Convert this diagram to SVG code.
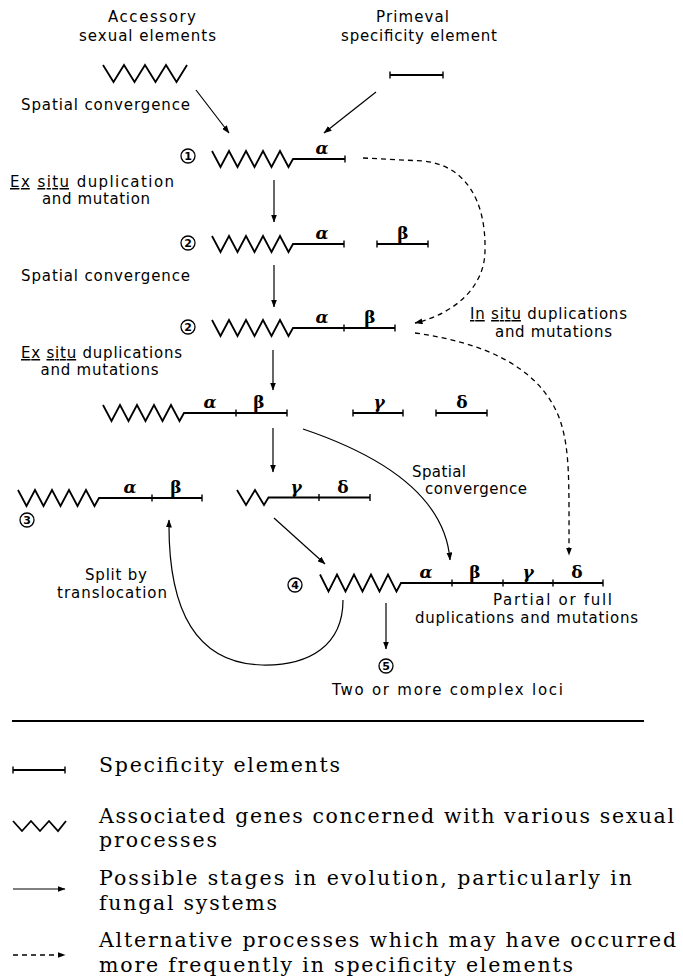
<svg xmlns="http://www.w3.org/2000/svg" width="683" height="978" viewBox="0 0 683 978">
<defs>
<marker id="ah" viewBox="0 0 8 6" refX="7.5" refY="3" markerWidth="8" markerHeight="6" markerUnits="userSpaceOnUse" orient="auto">
<path d="M0,0 L8,3 L0,6 z" fill="#000"/>
</marker>
<style>
.g{fill:none;stroke:#000;stroke-width:1.8;stroke-linejoin:miter}
.t{fill:none;stroke:#000;stroke-width:1.4}
.a{fill:none;stroke:#000;stroke-width:1.2;marker-end:url(#ah)}
.d{fill:none;stroke:#000;stroke-width:1.3;stroke-dasharray:5 4;marker-end:url(#ah)}
.c{fill:none;stroke:#000;stroke-width:1.3}
.lb{font-family:"DejaVu Sans","Liberation Sans",sans-serif;font-size:15px;fill:#000}
.n{font-family:"DejaVu Sans","Liberation Sans",sans-serif;font-size:11px;font-weight:bold;fill:#000;text-anchor:middle}
.gk{font-family:"DejaVu Serif","Liberation Serif",serif;font-size:17px;font-weight:bold;fill:#000;text-anchor:middle}
.it{font-style:italic}
.lg{font-family:"DejaVu Serif","Liberation Serif",serif;font-size:20.5px;fill:#000}
.u{text-decoration:underline}
</style>
</defs>

<g id="labels">
<text class="lb" x="108" y="22" textLength="88">Accessory</text>
<text class="lb" x="79" y="40.5" textLength="137">sexual elements</text>
<text class="lb" x="376" y="22" textLength="73">Primeval</text>
<text class="lb" x="341" y="40.5" textLength="156">specificity element</text>
<text class="lb" x="21" y="110" textLength="169">Spatial convergence</text>
<text class="lb" x="10" y="187" textLength="164"><tspan class="u">Ex</tspan> <tspan class="u">situ</tspan> duplication</text>
<text class="lb" x="42" y="204" textLength="108">and mutation</text>
<text class="lb" x="21" y="281" textLength="169">Spatial convergence</text>
<text class="lb" x="21" y="358" textLength="161"><tspan class="u">Ex</tspan> <tspan class="u">situ</tspan> duplications</text>
<text class="lb" x="40.5" y="375" textLength="118">and mutations</text>
<text class="lb" x="470" y="319" textLength="157"><tspan class="u">In</tspan> <tspan class="u">situ</tspan> duplications</text>
<text class="lb" x="495" y="337" textLength="117">and mutations</text>
<text class="lb" x="412" y="477" textLength="54">Spatial</text>
<text class="lb" x="425" y="494" textLength="102">convergence</text>
<text class="lb" x="85" y="580" textLength="62">Split by</text>
<text class="lb" x="57" y="598" textLength="110">translocation</text>
<text class="lb" x="493" y="605" textLength="119">Partial or full</text>
<text class="lb" x="415" y="623" textLength="223">duplications and mutations</text>
<text class="lb" x="332" y="695" textLength="231">Two or more complex loci</text>
</g>

<g id="node-accessory">
<path class="g" d="M103,65 l10.5,17 l10.5,-17 l10.5,17 l10.5,-17 l10.5,17 l10.5,-17 l10.5,17 l10.5,-17"/>
</g>
<g id="node-primeval">
<path class="g" d="M390,75 H443"/>
<path class="t" d="M390,71.5 v7 M443,71.5 v7"/>
</g>

<g id="node-1">
<circle class="c" cx="188" cy="156" r="7"/><text class="n" x="188" y="160">1</text>
<path class="g" d="M212,151 l8.5,16 l8.5,-16 l8.5,16 l8.5,-16 l8.5,16 l8.5,-16 l8.5,16 l8.5,-16 l8.5,16 l4.5,-8 H345"/>
<path class="t" d="M345,155.5 v7"/>
<text class="gk it" x="322" y="153.5">α</text>
</g>

<g id="node-2a">
<circle class="c" cx="188" cy="243" r="7"/><text class="n" x="188" y="247">2</text>
<path class="g" d="M212,236 l8.5,16 l8.5,-16 l8.5,16 l8.5,-16 l8.5,16 l8.5,-16 l8.5,16 l8.5,-16 l8.5,16 l4.5,-8 H344"/>
<path class="g" d="M377,244 H428"/>
<path class="t" d="M344,240.5 v7 M377,240.5 v7 M428,240.5 v7"/>
<text class="gk it" x="322" y="238.5">α</text>
<text class="gk" x="403" y="238.5">β</text>
</g>

<g id="node-2b">
<circle class="c" cx="188" cy="327" r="7"/><text class="n" x="188" y="331">2</text>
<path class="g" d="M212,320 l8.5,16 l8.5,-16 l8.5,16 l8.5,-16 l8.5,16 l8.5,-16 l8.5,16 l8.5,-16 l8.5,16 l4.5,-8 H395"/>
<path class="t" d="M344,324.5 v7 M395,324.5 v7"/>
<text class="gk it" x="322" y="322.5">α</text>
<text class="gk" x="370" y="322.5">β</text>
</g>

<g id="node-abgd">
<path class="g" d="M103,405 l8.5,16 l8.5,-16 l8.5,16 l8.5,-16 l8.5,16 l8.5,-16 l8.5,16 l8.5,-16 l8.5,16 l4.5,-8 H287"/>
<path class="g" d="M353,413 H403 M436,413 H487"/>
<path class="t" d="M236,409.5 v7 M287,409.5 v7 M353,409.5 v7 M403,409.5 v7 M436,409.5 v7 M487,409.5 v7"/>
<text class="gk it" x="210" y="407.5">α</text>
<text class="gk" x="259" y="407.5">β</text>
<text class="gk it" x="379" y="407.5">γ</text>
<text class="gk" x="462" y="407.5">δ</text>
</g>

<g id="node-3">
<circle class="c" cx="27" cy="520" r="7"/><text class="n" x="27" y="524">3</text>
<path class="g" d="M18,490 l8.5,16 l8.5,-16 l8.5,16 l8.5,-16 l8.5,16 l8.5,-16 l8.5,16 l8.5,-16 l8.5,16 l4.5,-8 H202"/>
<path class="t" d="M152,494.5 v7 M202,494.5 v7"/>
<text class="gk it" x="130" y="492.5">α</text>
<text class="gk" x="176" y="492.5">β</text>
</g>

<g id="node-gd">
<path class="g" d="M237,490 l9,15 l9,-15 l9,15 l4.5,-7.5 H370"/>
<path class="t" d="M319,494 v7 M370,494 v7"/>
<text class="gk it" x="296" y="492.5">γ</text>
<text class="gk" x="343" y="492.5">δ</text>
</g>

<g id="node-4">
<circle class="c" cx="295" cy="585" r="7"/><text class="n" x="295" y="589">4</text>
<path class="g" d="M320,574.5 l8.5,17 l8.5,-17 l8.5,17 l8.5,-17 l8.5,17 l8.5,-17 l8.5,17 l8.5,-17 l8.5,17 l4.5,-8.5 H603"/>
<path class="t" d="M452,579.5 v7 M503,579.5 v7 M553,579.5 v7 M603,579.5 v7"/>
<text class="gk it" x="426" y="577.5">α</text>
<text class="gk" x="475" y="577.5">β</text>
<text class="gk it" x="528" y="577.5">γ</text>
<text class="gk" x="577" y="577.5">δ</text>
</g>

<g id="node-5">
<circle class="c" cx="386" cy="666" r="7"/><text class="n" x="386" y="670">5</text>
</g>

<g id="connectors">
<path class="a" d="M196,90 L229,133"/>
<path class="a" d="M376,92 L324,133"/>
<path class="a" d="M274,180 V222"/>
<path class="a" d="M274,265 V307"/>
<path class="a" d="M273,350 V390"/>
<path class="a" d="M273,428 V472"/>
<path class="a" d="M274,518 L325,564"/>
<path class="a" d="M303,429 C380,455 445,495 450,560"/>
<path class="a" d="M343,600 C343,645 310,666 262,665 C190,663 168,600 169,520"/>
<path class="a" d="M386,603 V649"/>
<path class="d" d="M363,158 L423,161 C465,165 486,200 485,250 C485,290 450,315 415,323"/>
<path class="d" d="M415,333 C480,342 540,365 560,420 C570,450 569,480 569,555"/>
</g>

<g id="legend">
<path d="M12,721 H644" stroke="#000" stroke-width="1.8"/>
<path class="g" d="M13,770 H65"/>
<path class="t" d="M13,766.5 v7 M65,766.5 v7"/>
<text class="lg" x="99" y="772" textLength="241">Specificity elements</text>
<path class="g" d="M13,821 L22,831 L31,821 L40,831 L49,821 L58,831 L66,821"/>
<text class="lg" x="99" y="823" textLength="575">Associated genes concerned with various sexual</text>
<text class="lg" x="99" y="847" textLength="118">processes</text>
<path class="a" d="M13,889 H65"/>
<text class="lg" x="99" y="885" textLength="533">Possible stages in evolution, particularly in</text>
<text class="lg" x="99" y="910" textLength="178">fungal systems</text>
<path class="d" d="M13,955 H65"/>
<text class="lg" x="99" y="947" textLength="577">Alternative processes which may have occurred</text>
<text class="lg" x="99" y="972" textLength="474">more frequently in specificity elements</text>
</g>
</svg>
